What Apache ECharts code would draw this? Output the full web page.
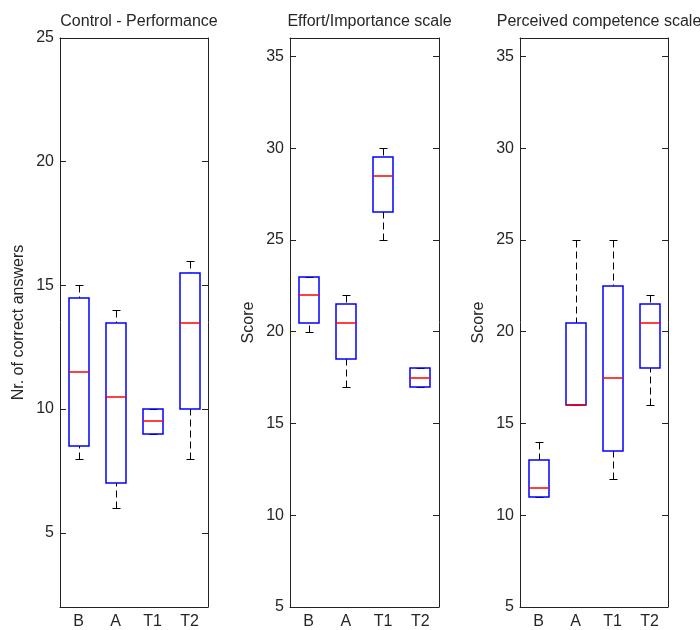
<!DOCTYPE html>
<html>
<head>
<meta charset="utf-8">
<script src="https://cdn.jsdelivr.net/npm/echarts@6/dist/echarts.min.js"></script>
<style>
  html, body { margin: 0; padding: 0; background: #fff; }
  #chart { width: 700px; height: 630px; }
</style>
</head>
<body>
<div id="chart"></div>
<script>
// Groups shown on every panel
const categories = ['B', 'A', 'T1', 'T2'];

// Five-number summaries per group: [min, Q1, median, Q3, max]
const performanceStats = [
  [8, 8.5, 11.5, 14.5, 15],
  [6, 7, 10.5, 13.5, 14],
  [9, 9, 9.5, 10, 10],
  [8, 10, 13.5, 15.5, 16]
];
const effortStats = [
  [20, 20.5, 22, 23, 23],
  [17, 18.5, 20.5, 21.5, 22],
  [25, 26.5, 28.5, 29.5, 30],
  [17, 17, 17.5, 18, 18]
];
const competenceStats = [
  [11, 11, 11.5, 13, 14],
  [16, 16, 16, 20.5, 25],
  [12, 13.5, 17.5, 22.5, 25],
  [16, 18, 20.5, 21.5, 22]
];

// Panel titles and y-axis names
const panelTitles = ['Control - Performance', 'Effort/Importance scale', 'Perceived competence scale'];
const yNames = ['Nr. of correct answers', 'Score', 'Score'];

// Y-axis ranges and tick values
const yRanges = [[2, 25], [5, 36], [5, 36]];
const yTicksPerformance = [5, 10, 15, 20, 25];
const yTicksScale = [5, 10, 15, 20, 25, 30, 35];
const yTicks = [yTicksPerformance, yTicksScale, yTicksScale];

const panelStats = [performanceStats, effortStats, competenceStats];

const grids = [
  { left: 60, top: 38, width: 148, height: 570 },
  { left: 290, top: 38, width: 149, height: 570 },
  { left: 520, top: 38, width: 148, height: 570 }
];

const FONT = '"Liberation Sans", Arial, sans-serif';
const AXIS_COLOR = '#222';
const TEXT_COLOR = '#262626';
const BOX_COLOR = '#0000ff';
const MEDIAN_COLOR = '#ff0000';

const crisp = v => Math.round(v) + 0.5;

// Draws one box: dashed whiskers, end caps, blue box, red median.
function renderBox(params, api) {
  const i = api.value(0);
  const lo = api.value(1), q1 = api.value(2), med = api.value(3), q3 = api.value(4), hi = api.value(5);
  const band = api.size([1, 0])[0];
  const hw = Math.round(band * 0.26);
  const cw = Math.round(band * 0.105);
  const cx = crisp(api.coord([i, med])[0]);
  const bx = Math.round(api.coord([i, med])[0]);
  const y = v => crisp(api.coord([i, v])[1]);
  const yb = v => Math.round(api.coord([i, v])[1]);
  const dashed = () => ({ stroke: '#000000', lineWidth: 1, lineDash: [7, 4], fill: null });
  const solid = () => ({ stroke: '#000000', lineWidth: 1, fill: null });
  const top = yb(q3), bottom = yb(q1);
  return {
    type: 'group',
    children: [
      { type: 'line', ignore: !(hi > q3),
        shape: { x1: cx, y1: y(hi), x2: cx, y2: top }, style: dashed() },
      { type: 'line', ignore: !(lo < q1),
        shape: { x1: cx, y1: y(lo), x2: cx, y2: bottom }, style: dashed() },
      { type: 'line',
        shape: { x1: cx - cw, y1: y(hi), x2: cx + cw, y2: y(hi) }, style: solid() },
      { type: 'line',
        shape: { x1: cx - cw, y1: y(lo), x2: cx + cw, y2: y(lo) }, style: solid() },
      { type: 'rect',
        shape: { x: bx - hw, y: top, width: 2 * hw, height: bottom - top },
        style: { stroke: BOX_COLOR, lineWidth: 1.5, fill: null } },
      { type: 'line',
        shape: { x1: bx - hw, y1: yb(med), x2: bx + hw, y2: yb(med) },
        style: { stroke: MEDIAN_COLOR, lineWidth: 1.5, fill: null } }
    ]
  };
}

const xAxes = [], yAxes = [], series = [], titles = [];

grids.forEach((g, p) => {
  titles.push({
    text: panelTitles[p],
    left: g.left + g.width / 2,
    top: 9,
    textAlign: 'center',
    textStyle: { fontFamily: FONT, fontSize: 16, fontWeight: 'normal', color: TEXT_COLOR }
  });

  // bottom category axis with labels
  xAxes.push({
    type: 'category', gridIndex: p, position: 'bottom', data: categories,
    axisLine: { lineStyle: { color: AXIS_COLOR, width: 1 } },
    axisTick: { inside: true, length: 6, alignWithLabel: true, lineStyle: { color: AXIS_COLOR } },
    axisLabel: { fontFamily: FONT, fontSize: 16, color: TEXT_COLOR, margin: 7 },
    splitLine: { show: false }
  });
  // top frame with ticks
  xAxes.push({
    type: 'category', gridIndex: p, position: 'top', data: categories,
    axisLine: { lineStyle: { color: AXIS_COLOR, width: 1 } },
    axisTick: { inside: true, length: 6, alignWithLabel: true, lineStyle: { color: AXIS_COLOR } },
    axisLabel: { show: false },
    splitLine: { show: false }
  });

  // left value axis with labels and name
  yAxes.push({
    type: 'value', gridIndex: p, position: 'left',
    min: yRanges[p][0], max: yRanges[p][1],
    name: yNames[p], nameLocation: 'middle', nameGap: 33,
    nameTextStyle: { fontFamily: FONT, fontSize: 16, color: TEXT_COLOR },
    axisLine: { show: true, lineStyle: { color: AXIS_COLOR, width: 1 } },
    axisTick: { show: true, inside: true, length: 6, customValues: yTicks[p], lineStyle: { color: AXIS_COLOR } },
    axisLabel: { fontFamily: FONT, fontSize: 16, color: TEXT_COLOR, margin: 6, customValues: yTicks[p] },
    splitLine: { show: false }
  });
  // right frame with ticks
  yAxes.push({
    type: 'value', gridIndex: p, position: 'right',
    min: yRanges[p][0], max: yRanges[p][1],
    axisLine: { show: true, lineStyle: { color: AXIS_COLOR, width: 1 } },
    axisTick: { show: true, inside: true, length: 6, customValues: yTicks[p], lineStyle: { color: AXIS_COLOR } },
    axisLabel: { show: false },
    splitLine: { show: false }
  });

  series.push({
    type: 'custom',
    xAxisIndex: p * 2,
    yAxisIndex: p * 2,
    renderItem: renderBox,
    encode: { x: 0, y: [1, 2, 3, 4, 5] },
    data: panelStats[p].map((s, i) => [i].concat(s)),
    silent: true,
    clip: false
  });
});

const chart = echarts.init(document.getElementById('chart'), null, { renderer: 'canvas' });
chart.setOption({
  animation: false,
  backgroundColor: '#fff',
  title: titles,
  grid: grids,
  xAxis: xAxes,
  yAxis: yAxes,
  series: series
});
</script>
</body>
</html>
